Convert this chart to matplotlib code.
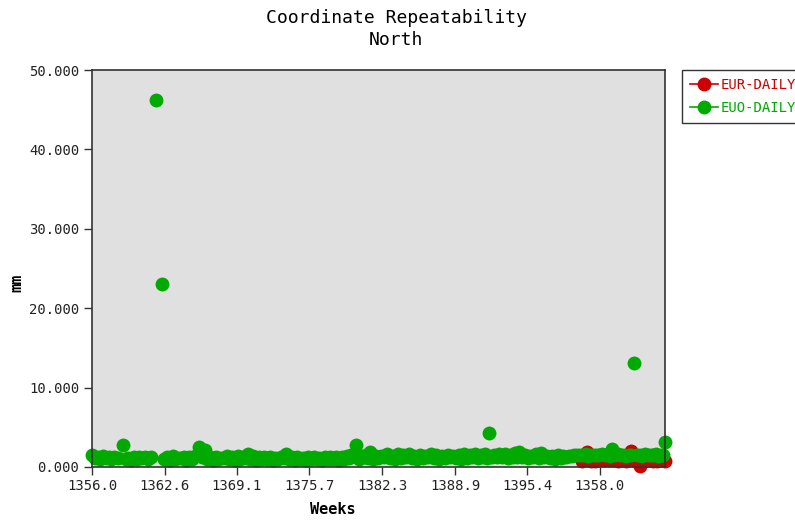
import matplotlib
matplotlib.use("Agg")
import matplotlib.pyplot as plt
from matplotlib.lines import Line2D

# EUO-DAILY: north coordinate repeatability (mm) per GPS week
euo_weeks = [
    1356.0, 1356.5, 1357.0, 1357.5, 1358.0, 1358.8, 1359.3, 1359.8, 1360.3, 1360.8,
    1361.3, 1361.8, 1362.3, 1362.8, 1363.3, 1363.8, 1364.3, 1364.8, 1365.3, 1365.7,
    1366.2, 1366.7, 1367.2, 1367.7, 1368.2, 1368.7, 1369.2, 1369.7, 1370.1, 1370.6,
    1371.1, 1371.6, 1372.1, 1372.6, 1373.1, 1373.6, 1374.1, 1374.6, 1375.1, 1375.6,
    1376.1, 1376.6, 1377.1, 1377.6, 1378.1, 1378.6, 1379.1, 1379.5, 1379.9, 1380.4,
    1380.8, 1381.2, 1381.7, 1382.2, 1382.7, 1383.2, 1383.7, 1384.2, 1384.7, 1385.2,
    1385.7, 1386.2, 1386.7, 1387.2, 1387.7, 1388.2, 1388.7, 1389.2, 1389.7, 1390.2,
    1390.7, 1391.2, 1391.6, 1392.0, 1392.4, 1392.9, 1393.4, 1393.9, 1394.3, 1394.7,
    1395.2, 1395.7, 1396.2, 1396.7, 1397.2, 1397.7, 1398.2, 1398.7, 1399.2, 1399.7,
    1400.2, 1400.7, 1401.2, 1401.7, 1402.2, 1402.7, 1403.1, 1403.6, 1404.1, 1404.6,
    1405.1, 1405.6, 1406.1, 1406.6, 1407.1, 1407.5, 1407.9,
    # intermediate days
    1356.25, 1356.75, 1357.25, 1357.75, 1358.4, 1359.05, 1359.55, 1360.05, 1360.55, 1361.05,
    1362.55, 1363.05, 1363.55, 1364.05, 1364.55, 1365.05, 1365.95, 1366.45, 1366.95, 1367.45,
    1367.95, 1368.45, 1368.95, 1369.45, 1369.9, 1370.35, 1370.85, 1371.35, 1371.85, 1372.35,
    1372.85, 1373.35, 1373.85, 1374.35, 1374.85, 1375.35, 1375.85, 1376.35, 1376.85, 1377.35,
    1377.85, 1378.35, 1378.85, 1379.3, 1380.15, 1380.6, 1381.0, 1381.45, 1381.95, 1382.45,
    1382.95, 1383.45, 1383.95, 1384.45, 1384.95, 1385.45, 1385.95, 1386.45, 1386.95, 1387.45,
    1387.95, 1388.45, 1388.95, 1389.45, 1389.95, 1390.45, 1390.95, 1391.4, 1391.8, 1392.2,
    1392.65, 1393.15, 1393.65, 1394.1, 1394.5, 1394.95, 1395.45, 1395.95, 1396.45, 1396.95,
    1397.45, 1397.95, 1398.45, 1398.95, 1399.45, 1399.95, 1400.45, 1400.95, 1401.45, 1401.95,
    1402.45, 1402.9, 1403.35, 1403.85, 1404.35, 1404.85, 1405.35, 1405.85, 1406.35, 1406.85,
    1407.3, 1407.7,
]
euo_values = [
    1.5, 1.3, 1.4, 1.3, 1.2, 2.8, 1.1, 1.2, 1.3, 1.2,
    1.3, 46.2, 23.0, 1.2, 1.4, 1.1, 1.3, 1.2, 1.4, 2.5,
    2.1, 1.3, 1.2, 1.1, 1.4, 1.3, 1.4, 1.3, 1.7, 1.4,
    1.3, 1.2, 1.3, 1.1, 1.2, 1.7, 1.3, 1.2, 1.1, 1.2,
    1.3, 1.1, 1.2, 1.3, 1.2, 1.3, 1.4, 1.5, 2.8, 1.4,
    1.5, 1.9, 1.4, 1.4, 1.6, 1.4, 1.6, 1.5, 1.6, 1.4,
    1.5, 1.4, 1.6, 1.5, 1.4, 1.5, 1.4, 1.5, 1.6, 1.5,
    1.7, 1.5, 1.6, 4.3, 1.5, 1.6, 1.7, 1.5, 1.8, 1.9,
    1.5, 1.4, 1.6, 1.8, 1.4, 1.4, 1.5, 1.4, 1.4, 1.5,
    1.5, 1.6, 1.5, 1.5, 1.6, 1.7, 2.3, 1.6, 1.5, 1.5,
    13.1, 1.5, 1.6, 1.5, 1.6, 1.5, 3.1,
    # intermediate days
    1.1, 1.0, 1.1, 1.0, 1.1, 1.0, 0.9, 1.0, 1.1, 1.0,
    1.0, 0.9, 1.0, 1.1, 0.9, 1.0, 1.2, 1.0, 0.9, 1.0,
    1.1, 1.0, 0.9, 1.0, 1.1, 1.0, 0.9, 1.0, 1.0, 0.9,
    1.0, 1.1, 1.0, 0.9, 1.0, 0.9, 1.0, 1.0, 0.9, 1.0,
    1.0, 0.9, 1.0, 1.1, 1.0, 1.2, 1.1, 1.0, 1.1, 1.2,
    1.1, 1.0, 1.1, 1.2, 1.1, 1.0, 1.1, 1.2, 1.1, 1.0,
    1.1, 1.2, 1.1, 1.0, 1.1, 1.2, 1.1, 1.2, 1.1, 1.2,
    1.3, 1.2, 1.1, 1.2, 1.3, 1.2, 1.1, 1.2, 1.1, 1.2,
    1.1, 1.0, 1.1, 1.2, 1.4, 1.5, 1.5, 1.4, 1.5, 1.5,
    1.5, 1.4, 1.5, 1.5, 1.4, 1.5, 1.5, 1.4, 1.5, 1.5,
    1.4, 1.5,
]

# EUR-DAILY series
eur_weeks = [
    1400.4, 1400.8, 1401.2, 1401.6, 1402.0, 1402.4, 1402.8, 1403.2, 1403.6, 1404.0,
    1404.4, 1404.8, 1405.2, 1405.6, 1406.0, 1406.4, 1406.8, 1407.2, 1407.6, 1407.9,
]
eur_values = [
    0.7, 1.9, 0.8, 0.8, 0.9, 0.9, 0.9, 0.9, 0.8, 0.9,
    0.8, 2.0, 0.8, 0.1, 0.8, 0.9, 0.8, 0.8, 0.9, 0.8,
]

tick_weeks = [1356.0, 1362.6, 1369.1, 1375.7, 1382.3, 1388.9, 1395.4, 1402.0]
tick_labels = ["1356.0", "1362.6", "1369.1", "1375.7", "1382.3", "1388.9", "1395.4", "1358.0"]
y_ticks = [0, 10, 20, 30, 40, 50]

RED = "#cc0000"
GREEN = "#00aa00"
MONO = "DejaVu Sans Mono"
W, H = 795, 520

fig = plt.figure(figsize=(W / 100, H / 100), dpi=100)
ax = fig.add_axes([92 / W, 1 - 467 / H, (665 - 92) / W, (467 - 70) / H])
ax.set_facecolor("#e0e0e0")

ax.plot(eur_weeks, eur_values, linestyle="none", marker="o", markersize=10,
        color=RED, markeredgewidth=0, clip_on=False, zorder=3)
ax.plot(euo_weeks, euo_values, linestyle="none", marker="o", markersize=10,
        color=GREEN, markeredgewidth=0, clip_on=False, zorder=4)

ax.set_xlim(1356.0, 1407.9)
ax.set_ylim(0, 50)
ax.set_xticks(tick_weeks)
ax.set_xticklabels(tick_labels)
ax.set_yticks(y_ticks)
ax.set_yticklabels([f"{v:.3f}" for v in y_ticks])

for lab in ax.get_xticklabels() + ax.get_yticklabels():
    lab.set_fontfamily(MONO)
    lab.set_fontsize(10)
    lab.set_color("#222222")
ax.tick_params(direction="out", length=6, width=1, color="#333333", pad=3)

for sp in ax.spines.values():
    sp.set_color("#333333")
    sp.set_linewidth(1.2)
    sp.set_zorder(5)

fig.text(333 / W, 1 - 510 / H, "Weeks", ha="center", va="center",
         fontfamily=MONO, fontsize=11, fontweight="bold")
fig.text(17 / W, 1 - 283 / H, "mm", ha="center", va="center", rotation=90,
         fontfamily=MONO, fontsize=11, fontweight="bold")

fig.text(396 / W, 1 - 29 / H, "Coordinate Repeatability\nNorth", ha="center",
         va="center", fontfamily=MONO, fontsize=13, linespacing=1.3)

handles = [
    Line2D([], [], color=RED, marker="o", markersize=9, linewidth=1.2),
    Line2D([], [], color=GREEN, marker="o", markersize=9, linewidth=1.2),
]
leg = fig.legend(handles, ["EUR-DAILY", "EUO-DAILY"], loc="upper left",
                 bbox_to_anchor=(682 / W, 1 - 70 / H), fancybox=False,
                 framealpha=1, edgecolor="#333333", handlelength=2.0,
                 handletextpad=0.2, borderpad=0.6, labelspacing=0.6,
                 borderaxespad=0, prop={"family": MONO, "size": 10})
leg.get_frame().set_linewidth(1.0)
for txt, c in zip(leg.get_texts(), [RED, GREEN]):
    txt.set_color(c)

fig.savefig("out.png", dpi=100)
